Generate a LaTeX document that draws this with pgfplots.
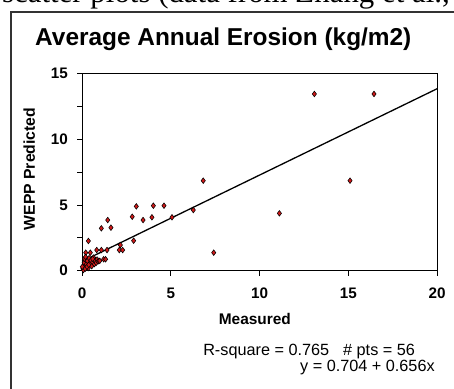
\documentclass[border=0pt]{standalone}
\usepackage{fontspec}
\setmainfont{Liberation Sans}
\newfontfamily\seriffont{Liberation Serif}
\usepackage{pgfplots}
\pgfplotsset{compat=1.18}
\definecolor{mkred}{HTML}{D01818}
\begin{document}
\begin{tikzpicture}[x=1bp,y=1bp]
% clipped caption line of the surrounding page
\begin{scope}
\clip (0,0) rectangle (454,388);
\node[anchor=base east, inner sep=0pt, font=\seriffont\fontsize{31}{34}\selectfont] at (450,385.5) {of the scatter plots (data from Zhang et al.,};
\draw[line width=1.1bp, black!80] (11,-10) -- (11,376) -- (470,376);
\end{scope}
\begin{axis}[
  at={(82bp,117.3bp)}, anchor=south west,
  scale only axis, width=355bp, height=197.4bp,
  xmin=0, xmax=20, ymin=0, ymax=15,
  xtick={0,5,10,15,20}, ytick={0,5,10,15},
  minor ytick={2.5,7.5,12.5},
  tick pos=left, tick align=outside,
  major tick length=5bp, minor tick length=5bp,
  every tick/.style={black, line width=0.8bp},
  axis line style={line width=0.9bp},
  /pgf/number format/assume math mode=true,
  tick label style={font=\fontsize{15.3}{17}\selectfont\bfseries},
  yticklabel style={inner sep=0pt, anchor=east, xshift=-9bp},
  xticklabel style={inner sep=0pt, anchor=north, yshift=-12bp},
  title={Average Annual Erosion (kg/m2)},
  title style={at={(rel axis cs:0.398,1.113)}, anchor=base, inner sep=0pt,
    font=\fontsize{24.5}{27}\selectfont\bfseries},
  xlabel={Measured},
  xlabel style={at={(rel axis cs:0.487,-0.27)}, anchor=base, inner sep=0pt,
    font=\fontsize{15.5}{17}\selectfont\bfseries},
  ylabel={WEPP Predicted},
  ylabel style={at={(rel axis cs:-0.1324,0.515)}, anchor=base, inner sep=0pt, rotate=0,
    font=\fontsize{15.8}{17}\selectfont\bfseries},
  clip=false,
]
\addplot[black, line width=1.3bp] coordinates {(0,0.704) (20,13.824)};
\addplot[only marks, mark=diamond*, mark size=2.8bp,
  mark options={fill=mkred, draw=black, line width=0.55bp}] coordinates {
(13.09,13.43) (16.45,13.43) (6.83,6.84) (15.1,6.84) (11.12,4.36) (7.42,1.37)
(3.06,4.89) (4.02,4.94) (4.62,4.94) (2.83,4.1) (3.94,4.06) (3.44,3.85)
(5.07,4.06) (6.27,4.61) (1.45,3.85) (1.09,3.22) (1.63,3.27) (2.91,2.28)
(0.36,2.26) (2.16,1.95) (2.1,1.57) (2.29,1.57) (0.83,1.57) (1.09,1.57)
(1.41,1.57) (0.21,1.37) (0.47,1.37) (1.22,0.87) (1.33,0.87)
(0.05,0.15) (0.1,0.35) (0.12,0.6) (0.15,0.9) (0.2,1.05) (0.25,0.5)
(0.3,0.75) (0.35,0.2) (0.4,0.95) (0.45,0.55) (0.5,0.8) (0.55,0.35)
(0.6,0.65) (0.65,1.0) (0.7,0.5) (0.75,0.75) (0.8,0.6) (0.85,0.85)
(0.9,0.7) (0.95,0.75) (1.0,0.75) (0.08,0.05) (0.02,0.3) (0.18,0.15)
(0.28,0.3) (0.38,0.45) (0.6,0.9)
};
\node[anchor=base west, inner sep=0pt, font=\fontsize{16.3}{18}\selectfont]
  at (rel axis cs:0.341,-0.432) {R-square = 0.765\hspace{14bp}\# pts = 56};
\node[anchor=base east, inner sep=0pt, font=\fontsize{16.3}{18}\selectfont]
  at (rel axis cs:0.994,-0.513) {y = 0.704 + 0.656x};
\end{axis}
\pgfresetboundingbox
\useasboundingbox (0,0) rectangle (454,388);
\end{tikzpicture}
\end{document}
